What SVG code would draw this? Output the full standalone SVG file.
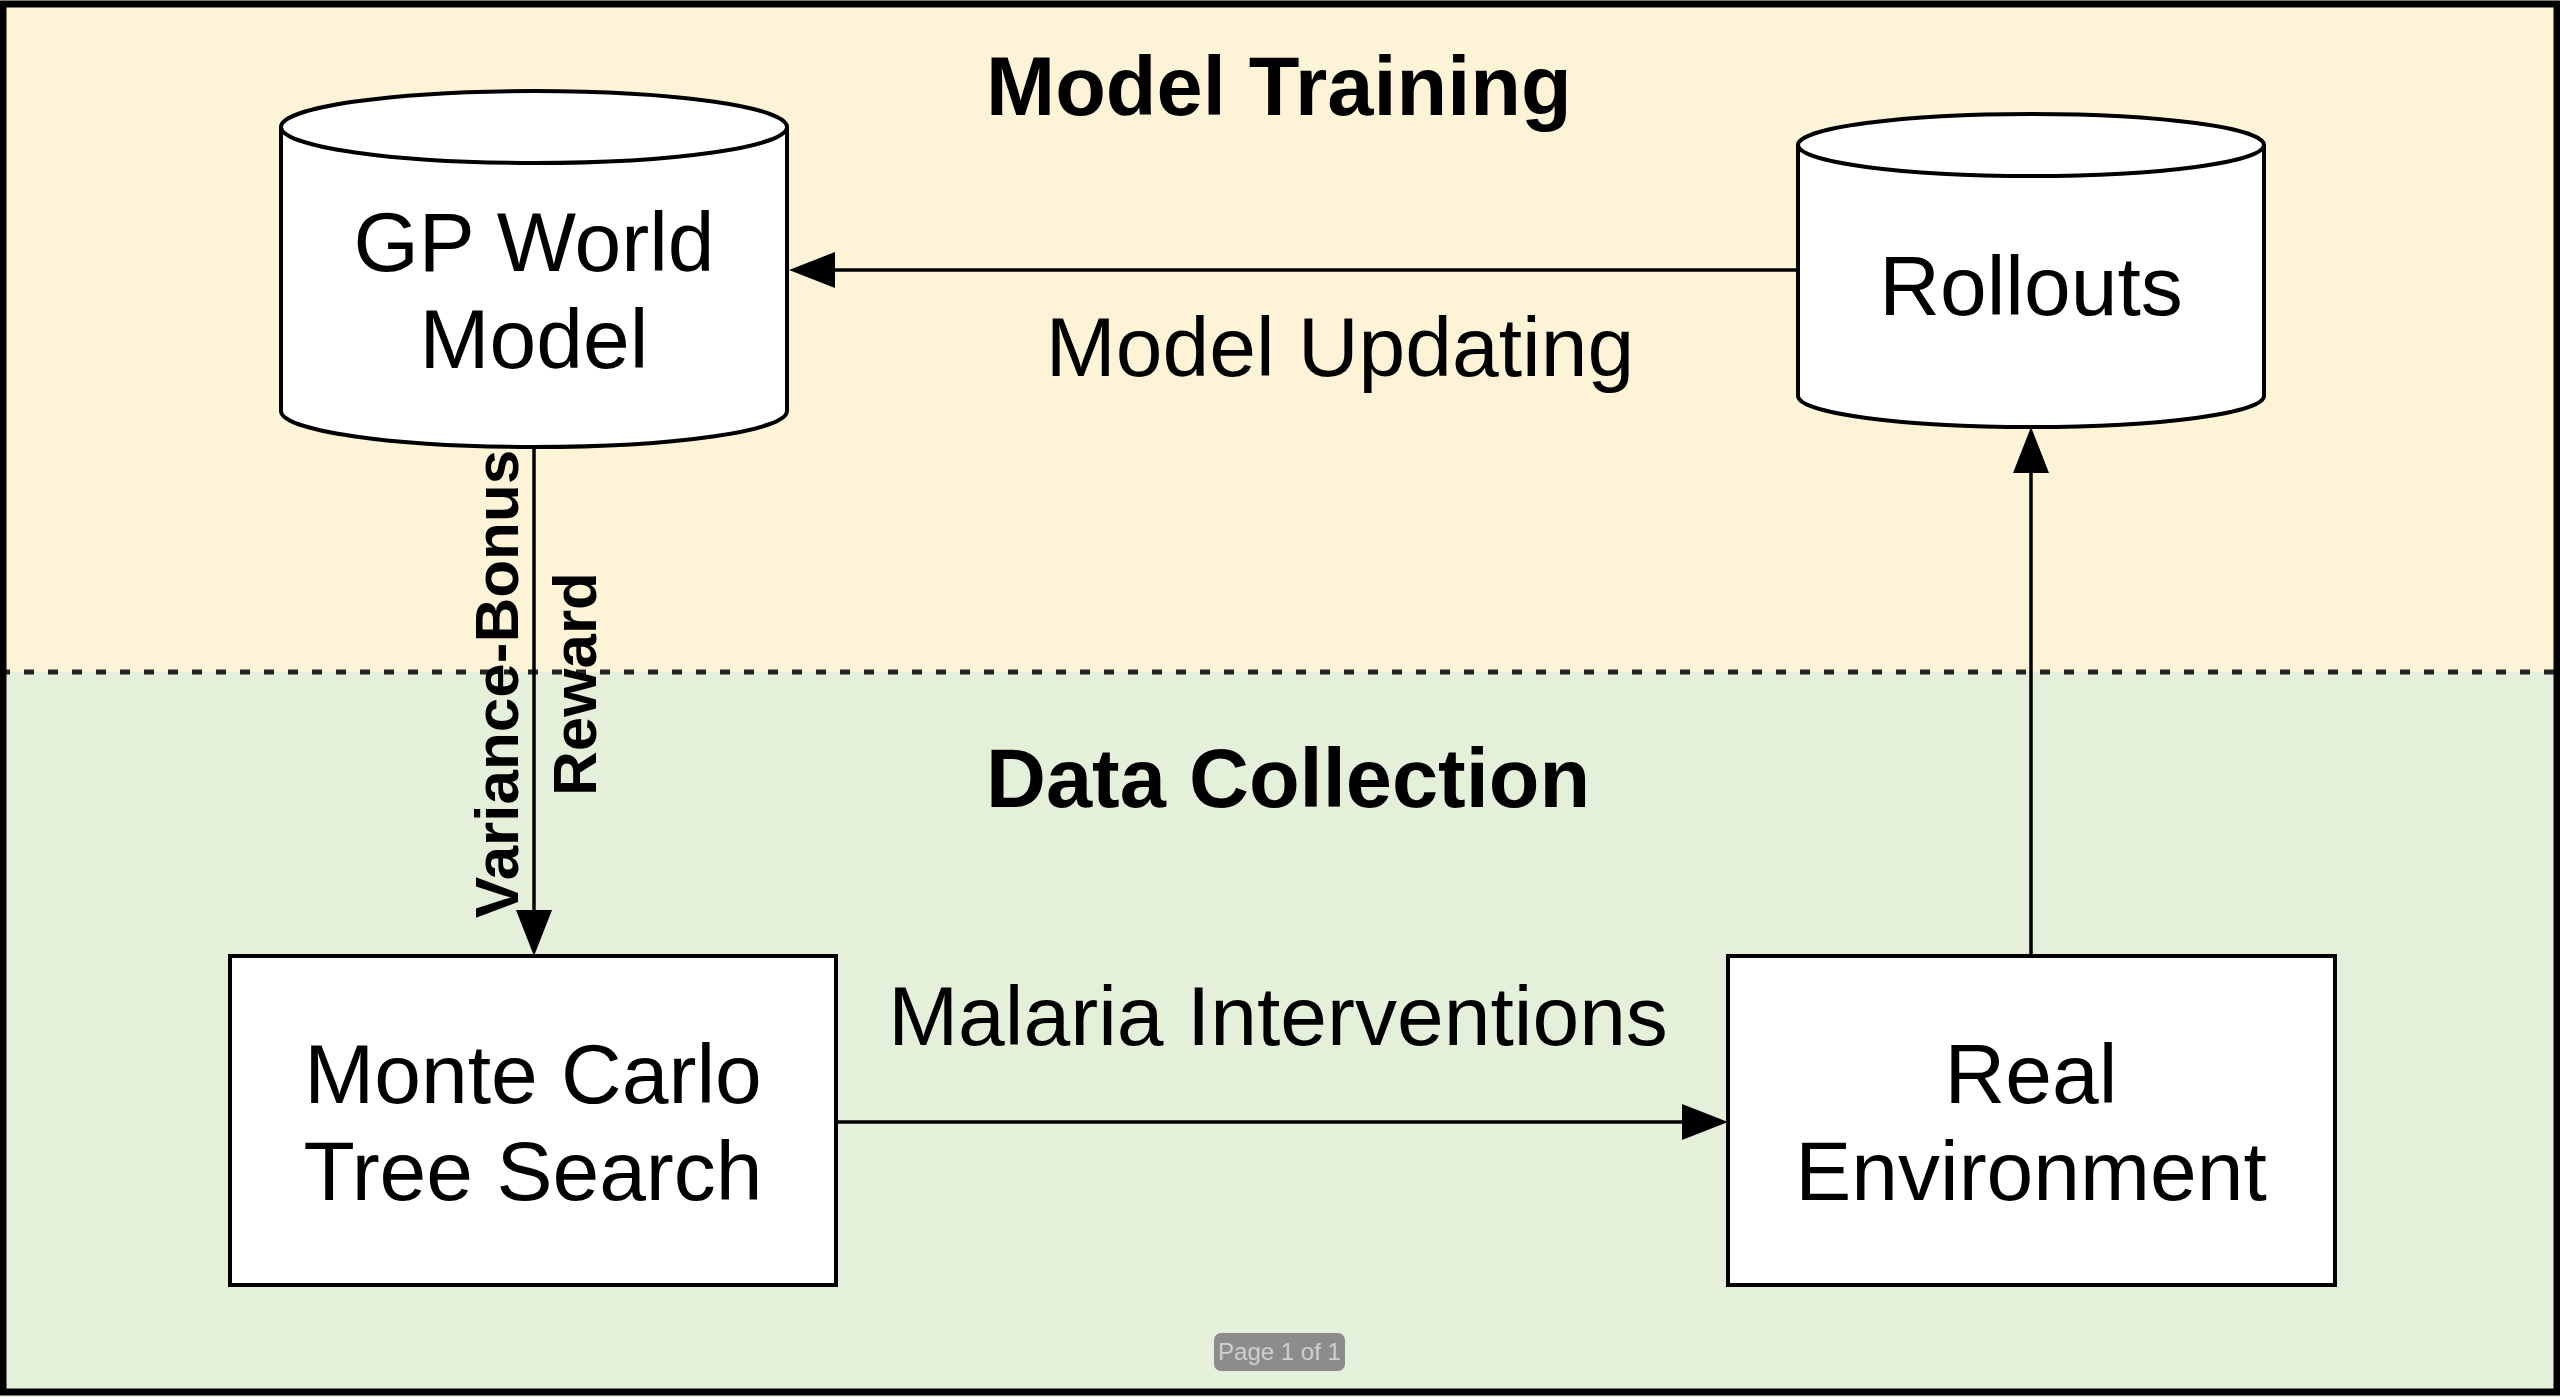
<svg xmlns="http://www.w3.org/2000/svg" width="2560" height="1397" viewBox="0 0 2560 1397">
<style>
.lbl{font-family:"Liberation Sans",Arial,Helvetica,sans-serif;font-size:84px;fill:#000;text-anchor:middle}
.title{font-family:"Liberation Sans",Arial,Helvetica,sans-serif;font-size:83px;font-weight:bold;fill:#000}
.edge-lbl{font-family:"Liberation Sans",Arial,Helvetica,sans-serif;font-size:62px;font-weight:bold;fill:#000;text-anchor:middle}
.shape{fill:#fff;stroke:#000;stroke-width:4}
.conn{fill:none;stroke:#000;stroke-width:3.5}
</style>
<defs>
<marker id="arrow" markerUnits="userSpaceOnUse" markerWidth="46" markerHeight="36" viewBox="0 0 46 36" refX="38" refY="18" orient="auto">
<path d="M0,0 L46,18 L0,36 Z" fill="#000"/>
</marker>
</defs>
<g id="background">
<rect x="0" y="0" width="2560" height="672" fill="#fdf3d6"/>
<rect x="0" y="672" width="2560" height="725" fill="#e4f0da"/>
<line x1="0" y1="672" x2="2560" y2="672" stroke="#222" stroke-width="5" stroke-dasharray="10 14"/>
<rect x="3" y="4" width="2554" height="1388" fill="none" stroke="#000" stroke-width="7"/>
</g>
<g id="titles">
<text class="title" x="986" y="115">Model Training</text>
<text class="title" x="986" y="807">Data Collection</text>
</g>
<g id="connectors">
<line class="conn" x1="1798" y1="270" x2="797" y2="270" marker-end="url(#arrow)"/>
<line class="conn" x1="534" y1="447" x2="534" y2="948" marker-end="url(#arrow)"/>
<line class="conn" x1="836" y1="1122" x2="1720" y2="1122" marker-end="url(#arrow)"/>
<line class="conn" x1="2031" y1="956" x2="2031" y2="435" marker-end="url(#arrow)"/>
<text class="lbl" x="1340" y="376">Model Updating</text>
<text class="lbl" x="1278" y="1045">Malaria Interventions</text>
<text class="edge-lbl" transform="translate(518,684) rotate(-90)" x="0" y="0">Variance-Bonus</text>
<text class="edge-lbl" transform="translate(596,684) rotate(-90)" x="0" y="0">Reward</text>
</g>
<g id="gp-world-model">
<path class="shape" d="M281,127 A253,36 0 0 1 787,127 L787,411 A253,36 0 0 1 281,411 Z"/>
<path class="shape" fill="none" d="M281,127 A253,36 0 0 0 787,127"/>
<text class="lbl" x="534" y="271">GP World</text>
<text class="lbl" x="534" y="368">Model</text>
</g>
<g id="rollouts">
<path class="shape" d="M1798,145 A233,31 0 0 1 2264,145 L2264,396 A233,31 0 0 1 1798,396 Z"/>
<path class="shape" fill="none" d="M1798,145 A233,31 0 0 0 2264,145"/>
<text class="lbl" x="2031" y="315">Rollouts</text>
</g>
<g id="mcts">
<rect class="shape" x="230" y="956" width="606" height="329"/>
<text class="lbl" x="533" y="1103">Monte Carlo</text>
<text class="lbl" x="533" y="1200">Tree Search</text>
</g>
<g id="real-environment">
<rect class="shape" x="1728" y="956" width="607" height="329"/>
<text class="lbl" x="2031" y="1103">Real</text>
<text class="lbl" x="2031" y="1200">Environment</text>
</g>
<g id="page-badge">
<rect x="1214" y="1333" width="131" height="38" rx="7" fill="#8c8c8c"/>
<text x="1279.5" y="1360" font-family="Liberation Sans, Arial, sans-serif" font-size="24" fill="#cfcfcf" text-anchor="middle">Page 1 of 1</text>
</g>
</svg>
